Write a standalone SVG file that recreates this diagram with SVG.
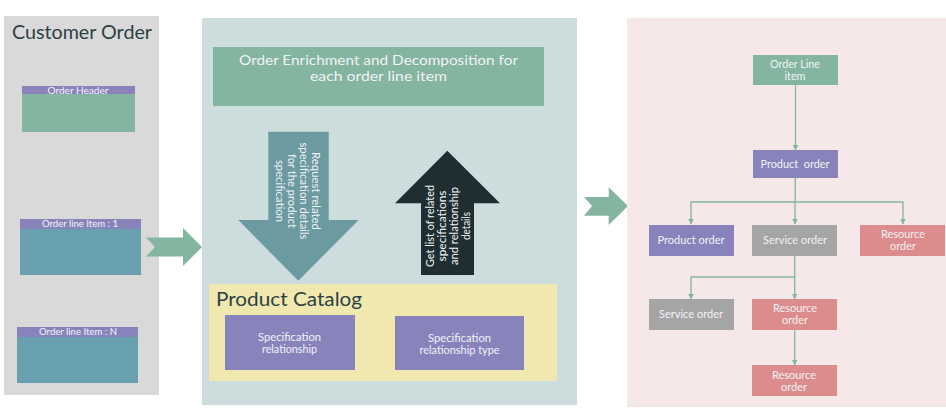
<svg xmlns="http://www.w3.org/2000/svg" width="946" height="408" viewBox="0 0 946 408">
<style>
text{font-family:"Lato","Liberation Sans",sans-serif;text-anchor:middle;fill:#f2f2f7}
.s{font-size:10.8px}.m{font-size:11px}.h{font-size:9.5px}
.t{font-size:19.500px;fill:#2c4144}.e{font-size:14.200px}
.g{fill:#84b5a0}.p{fill:#8884bb}.b{fill:#68a0b0}.r{fill:#dc8c8c}.y{fill:#a5a5a5}
.c{fill:none;stroke:#84b5a0;stroke-width:1.3}
</style>
<defs><marker id="a" markerUnits="userSpaceOnUse" markerWidth="6" markerHeight="6" refX="5.500" refY="3" orient="auto"><path d="M0 0L6 3L0 6Z" fill="#84b5a0"/></marker></defs>
<rect width="946" height="408" fill="#fff"/>
<g id="customer-order">
<rect x="4" y="16" width="155" height="379" fill="#d9d9d9"/>
<text class="t" x="82" y="39" textLength="140" lengthAdjust="spacingAndGlyphs">Customer Order</text>
</g>
<g id="order-header">
<rect class="g" x="22" y="86" width="113" height="46"/><rect class="p" x="22" y="86" width="113" height="8"/>
<text class="h" x="78" y="93.500" textLength="61" lengthAdjust="spacingAndGlyphs">Order Header</text>
</g>
<g id="order-line-1">
<rect class="b" x="20" y="219" width="121" height="56"/><rect class="p" x="20" y="219" width="121" height="10"/>
<text class="h" x="80" y="227" textLength="76" lengthAdjust="spacingAndGlyphs">Order line Item : 1</text>
</g>
<g id="order-line-n">
<rect class="b" x="17" y="327" width="121" height="56"/><rect class="p" x="17" y="327" width="121" height="10"/>
<text class="h" x="78" y="335" textLength="78" lengthAdjust="spacingAndGlyphs">Order line Item : N</text>
</g>
<g id="flow-arrow-1"><path class="g" d="M146 237.500H183V228L202 247L183 266V256.500H146L155 247Z"/></g>
<g id="enrichment-panel"><rect x="202" y="18" width="375" height="387" fill="#cddddd"/></g>
<g id="enrichment-title">
<rect class="g" x="213" y="47" width="331" height="59"/>
<text class="e" x="378.500" y="65" textLength="279" lengthAdjust="spacingAndGlyphs">Order Enrichment and Decomposition for</text>
<text class="e" x="378.500" y="81" textLength="137" lengthAdjust="spacingAndGlyphs">each order line item</text>
</g>
<g id="request-arrow">
<path fill="#6b9aa0" d="M268.300 131.700H328.700V220H358.700L298.300 280.700L238.300 220H268.300Z"/>
<g class="m">
<text transform="translate(312 191) rotate(90)" textLength="78" lengthAdjust="spacingAndGlyphs">Request related</text>
<text transform="translate(300 191) rotate(90)" textLength="97" lengthAdjust="spacingAndGlyphs">specification details</text>
<text transform="translate(288 191) rotate(90)" textLength="74" lengthAdjust="spacingAndGlyphs">for the product</text>
<text transform="translate(276 191) rotate(90)" textLength="62" lengthAdjust="spacingAndGlyphs">specification</text>
</g>
</g>
<g id="response-arrow">
<path fill="#1f2e30" d="M447.300 150.700L500 203.300H474V275H421V203.300H395Z"/>
<g class="m">
<text transform="translate(434 226) rotate(-90)" textLength="82" lengthAdjust="spacingAndGlyphs">Get list of related</text>
<text transform="translate(446 226) rotate(-90)" textLength="71" lengthAdjust="spacingAndGlyphs">specifications</text>
<text transform="translate(458 226) rotate(-90)" textLength="78" lengthAdjust="spacingAndGlyphs">and relationship</text>
<text transform="translate(470 226) rotate(-90)" textLength="28" lengthAdjust="spacingAndGlyphs">details</text>
</g>
</g>
<g id="product-catalog">
<rect x="209" y="284" width="348" height="97" fill="#f0e8ae"/>
<text class="t" x="289" y="306" textLength="146" lengthAdjust="spacingAndGlyphs">Product Catalog</text>
</g>
<g id="spec-relationship">
<rect class="p" x="225" y="315" width="130" height="55"/>
<text class="s" x="289.500" y="341" textLength="63" lengthAdjust="spacingAndGlyphs">Specification</text>
<text class="s" x="289.500" y="353" textLength="55" lengthAdjust="spacingAndGlyphs">relationship</text>
</g>
<g id="spec-relationship-type">
<rect class="p" x="395" y="316" width="129" height="54"/>
<text class="s" x="459.500" y="342" textLength="63" lengthAdjust="spacingAndGlyphs">Specification</text>
<text class="s" x="459.500" y="354" textLength="80" lengthAdjust="spacingAndGlyphs">relationship type</text>
</g>
<g id="flow-arrow-2"><path class="g" d="M584 197H608.700V187.300L628 206L608.700 225V215.700H584L592 206Z"/></g>
<g id="decomposition-panel"><rect x="627" y="18" width="319" height="389" fill="#f6e8e8"/></g>
<g id="connectors">
<path class="c" d="M795.500 85V150" marker-end="url(#a)"/>
<path class="c" d="M795.300 178V202M795 202H691V224" marker-end="url(#a)"/>
<path class="c" d="M795 202V224" marker-end="url(#a)"/>
<path class="c" d="M795 202H903V224" marker-end="url(#a)"/>
<path class="c" d="M794.700 256V299" marker-end="url(#a)"/>
<path class="c" d="M794.700 277H691V299" marker-end="url(#a)"/>
<path class="c" d="M794.700 330V365" marker-end="url(#a)"/>
</g>
<g id="node-line-item"><rect class="g" x="753" y="55" width="85" height="30"/>
<text class="s" x="795" y="68" textLength="50" lengthAdjust="spacingAndGlyphs">Order Line</text><text class="s" x="795" y="80" textLength="21" lengthAdjust="spacingAndGlyphs">item</text></g>
<g id="node-product-top"><rect class="p" x="753" y="150" width="85" height="28"/>
<text class="s" x="795" y="168" textLength="69" lengthAdjust="spacingAndGlyphs" xml:space="preserve">Product  order</text></g>
<g id="node-product"><rect class="p" x="649" y="225" width="85" height="31"/>
<text class="s" x="691" y="244" textLength="67" lengthAdjust="spacingAndGlyphs">Product order</text></g>
<g id="node-service"><rect class="y" x="752" y="225" width="85" height="31"/>
<text class="s" x="795" y="244" textLength="64" lengthAdjust="spacingAndGlyphs">Service order</text></g>
<g id="node-resource"><rect class="r" x="860" y="225" width="85" height="31"/>
<text class="s" x="903" y="238" textLength="44" lengthAdjust="spacingAndGlyphs">Resource</text><text class="s" x="903" y="250" textLength="26" lengthAdjust="spacingAndGlyphs">order</text></g>
<g id="node-service-2"><rect class="y" x="649" y="299" width="85" height="31"/>
<text class="s" x="691" y="318" textLength="64" lengthAdjust="spacingAndGlyphs">Service order</text></g>
<g id="node-resource-2"><rect class="r" x="752" y="299" width="85" height="31"/>
<text class="s" x="795" y="312" textLength="44" lengthAdjust="spacingAndGlyphs">Resource</text><text class="s" x="795" y="324" textLength="26" lengthAdjust="spacingAndGlyphs">order</text></g>
<g id="node-resource-3"><rect class="r" x="752" y="365" width="85" height="31"/>
<text class="s" x="794" y="379" textLength="44" lengthAdjust="spacingAndGlyphs">Resource</text><text class="s" x="794" y="391" textLength="26" lengthAdjust="spacingAndGlyphs">order</text></g>
</svg>
